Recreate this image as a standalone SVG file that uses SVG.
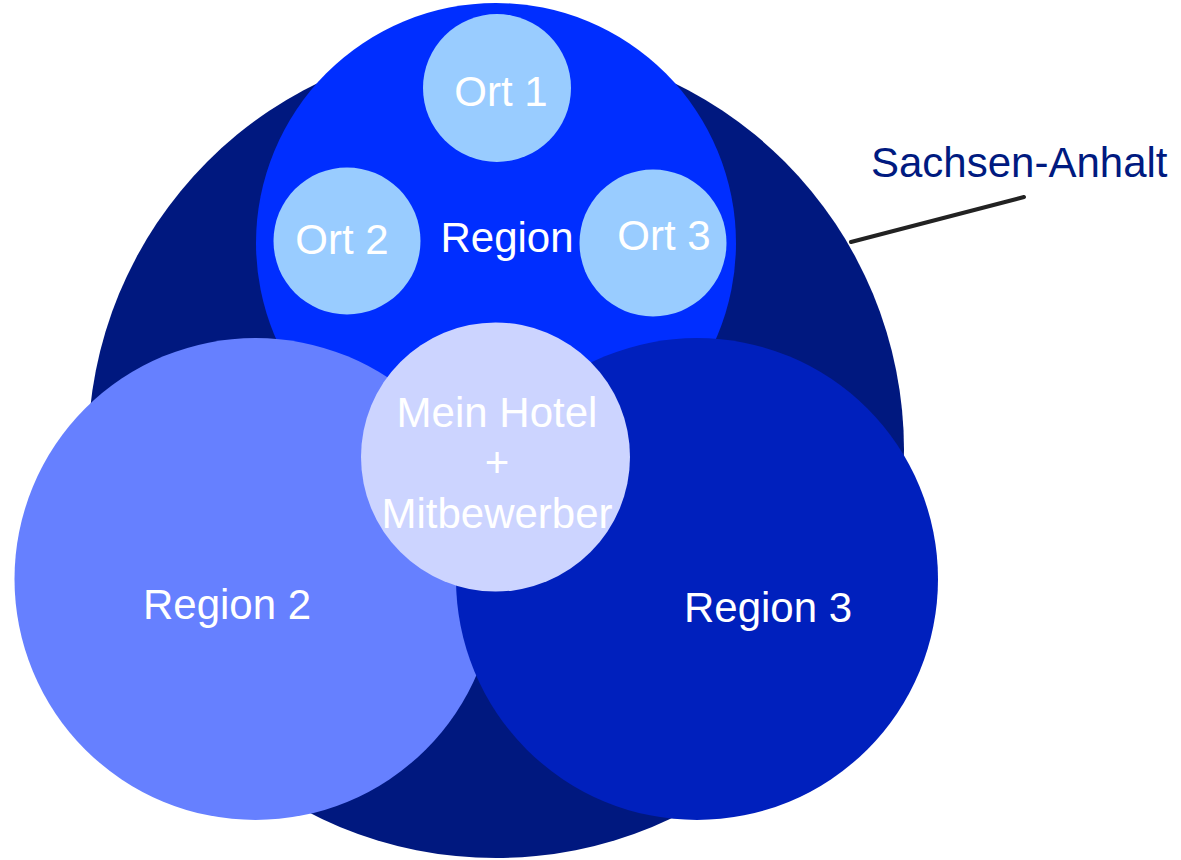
<svg xmlns="http://www.w3.org/2000/svg" width="1181" height="860" viewBox="0 0 1181 860">
<style>
text{font-family:"Liberation Sans",Arial,sans-serif;font-size:42px;fill:#ffffff;text-anchor:middle}
.ort{fill:#99CCFF}
</style>
<rect width="1181" height="860" fill="#ffffff"/>
<g id="sachsen-anhalt">
<circle cx="496" cy="450" r="408" fill="#00187F"/>
<text x="871" y="177" style="text-anchor:start;fill:#001A80">Sachsen-Anhalt</text>
</g>
<g id="region">
<circle cx="496" cy="243" r="240" fill="#002EFF"/>
<text x="507" y="252">Region</text>
</g>
<g id="ort1">
<circle class="ort" cx="497" cy="88" r="74"/>
<text x="501" y="106">Ort 1</text>
</g>
<g id="ort2">
<circle class="ort" cx="347" cy="241" r="73.5"/>
<text x="342" y="254">Ort 2</text>
</g>
<g id="ort3">
<circle class="ort" cx="653" cy="243" r="73.5"/>
<text x="664" y="250">Ort 3</text>
</g>
<g id="region2">
<circle cx="255.5" cy="579" r="241" fill="#6680FF"/>
<text x="227" y="619">Region 2</text>
</g>
<g id="region3">
<circle cx="697" cy="579" r="241" fill="#0020BD"/>
<text x="768" y="622">Region 3</text>
</g>
<g id="hotel">
<circle cx="495.5" cy="457" r="134.5" fill="#CCD4FF"/>
<text x="497" y="427">Mein Hotel</text>
<text x="497" y="477">+</text>
<text x="497" y="528">Mitbewerber</text>
</g>
<g id="connectors">
<line x1="851" y1="242" x2="1024" y2="197" stroke="#222222" stroke-width="4" stroke-linecap="round"/>
</g>
</svg>
